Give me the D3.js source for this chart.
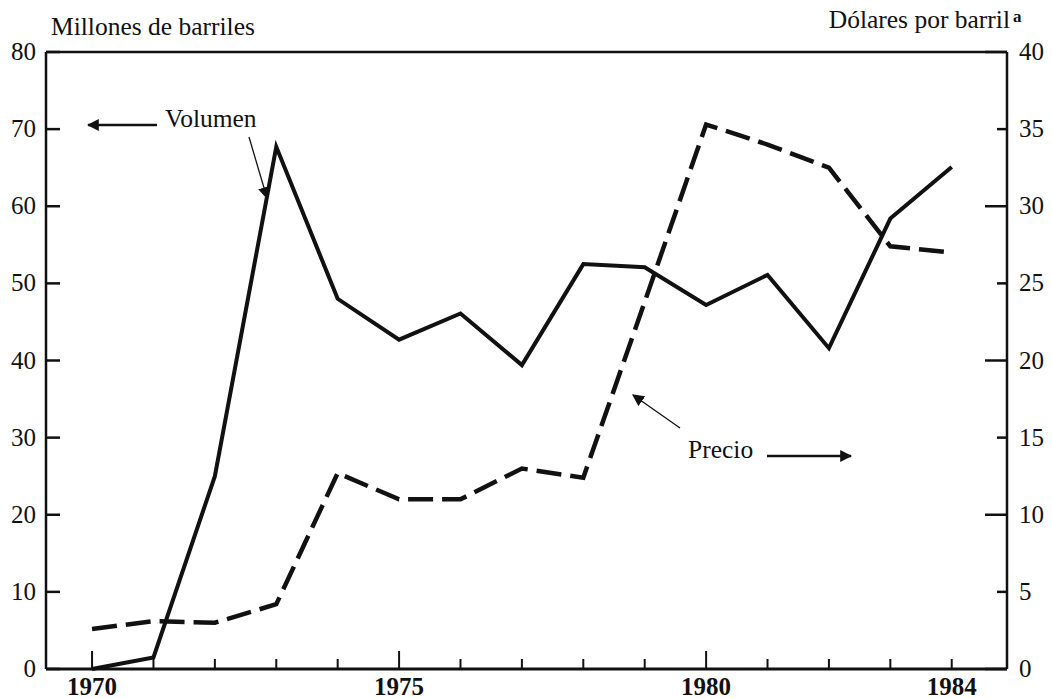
<!DOCTYPE html>
<html>
<head>
<meta charset="utf-8">
<script src="https://cdn.jsdelivr.net/npm/d3@7"></script>
<style>
    body { margin: 0; background: #fff; }
    text { font-family: "Liberation Serif", "DejaVu Serif", serif; fill: #111; }
</style>
</head>
<body>
<div id="container"></div>
<script>
// years on the x axis
const years = [1970, 1971, 1972, 1973, 1974, 1975, 1976, 1977, 1978, 1979, 1980, 1981, 1982, 1983, 1984];
// volume, millions of barrels (left axis)
const volumen = [0, 1.5, 25, 67.7, 48, 42.7, 46.1, 39.4, 52.5, 52.1, 47.2, 51.1, 41.6, 58.4, 65.1];
// price, dollars per barrel (right axis)
const precio = [2.6, 3.1, 3.0, 4.2, 12.7, 11.0, 11.0, 13.0, 12.4, 23.8, 35.3, 34.0, 32.5, 27.4, 27.0];

const yearLabels = [1970, 1975, 1980, 1984];
const leftTicks = [0, 10, 20, 30, 40, 50, 60, 70, 80];
const rightTicks = [0, 5, 10, 15, 20, 25, 30, 35, 40];

const chartW = 1052, chartH = 699;
const plotLeft = 46, plotRight = 1007, plotTop = 52, plotBottom = 669;

const svg = d3.select("#container").append("svg")
    .attr("width", chartW)
    .attr("height", chartH);

// scales
const x = d3.scaleLinear().domain([1969.25, 1984.9]).range([plotLeft, plotRight]);
const yL = d3.scaleLinear().domain([0, 80]).range([plotBottom, plotTop]);
const yR = d3.scaleLinear().domain([0, 40]).range([plotBottom, plotTop]);

// frame
function frameLine(x1, y1, x2, y2, w) {
    svg.append("line").attr("x1", x1).attr("x2", x2).attr("y1", y1).attr("y2", y2)
        .attr("stroke", "#111").attr("stroke-width", w);
}
frameLine(plotLeft, plotTop, plotRight, plotTop, 2.5);
frameLine(plotLeft, plotTop, plotLeft, plotBottom, 2.5);
frameLine(plotRight, plotTop, plotRight, plotBottom, 2.5);
frameLine(plotLeft, plotBottom, plotRight, plotBottom, 3);

// left ticks + labels
leftTicks.forEach(function(v) {
    frameLine(plotLeft, yL(v), plotLeft + 14, yL(v), 2.5);
    svg.append("text")
        .attr("x", 36).attr("y", yL(v) + 8)
        .attr("text-anchor", "end")
        .style("font-size", "25px")
        .text(v);
});

// right ticks + labels
rightTicks.forEach(function(v) {
    const len = v % 10 === 0 ? 22 : 10;
    frameLine(plotRight - len, yR(v), plotRight, yR(v), 2.5);
    svg.append("text")
        .attr("x", 1019).attr("y", yR(v) + 8)
        .style("font-size", "25px")
        .text(v);
});

// bottom ticks
years.forEach(function(yr) {
    const len = (yr === 1970 || yr === 1975 || yr === 1980) ? 18 : 10;
    frameLine(x(yr), plotBottom, x(yr), plotBottom - len, 2);
});
yearLabels.forEach(function(yr) {
    svg.append("text")
        .attr("x", x(yr)).attr("y", 695)
        .attr("text-anchor", "middle")
        .style("font-size", "25px")
        .style("font-weight", "bold")
        .text(yr);
});

// axis titles
svg.append("text").attr("x", 51).attr("y", 35)
    .style("font-size", "25.5px")
    .text("Millones de barriles");
svg.append("text").attr("x", 1010).attr("y", 28)
    .attr("text-anchor", "end")
    .style("font-size", "25.5px")
    .text("Dólares por barril");
svg.append("text").attr("x", 1013).attr("y", 22)
    .style("font-size", "17px")
    .style("font-weight", "bold")
    .text("a");

// series lines
const volLine = d3.line()
    .x(function(d, i) { return x(years[i]); })
    .y(function(d) { return yL(d); });
const priceLine = d3.line()
    .x(function(d, i) { return x(years[i]); })
    .y(function(d) { return yR(d); });

svg.append("path")
    .datum(volumen)
    .attr("d", volLine)
    .attr("fill", "none")
    .attr("stroke", "#111")
    .attr("stroke-width", 4)
    .attr("stroke-linejoin", "miter");

svg.append("path")
    .datum(precio)
    .attr("d", priceLine)
    .attr("fill", "none")
    .attr("stroke", "#111")
    .attr("stroke-width", 4.5)
    .attr("stroke-dasharray", "25,9");

// arrowheads
const defs = svg.append("defs");
defs.append("marker")
    .attr("id", "arrow")
    .attr("viewBox", "0 0 10 10")
    .attr("refX", 9).attr("refY", 5)
    .attr("markerWidth", 12).attr("markerHeight", 12)
    .attr("markerUnits", "userSpaceOnUse")
    .attr("orient", "auto")
    .append("path")
    .attr("d", "M0,0 L10,5 L0,10 Z")
    .attr("fill", "#111");

function arrow(x1, y1, x2, y2, w) {
    svg.append("line")
        .attr("x1", x1).attr("y1", y1).attr("x2", x2).attr("y2", y2)
        .attr("stroke", "#111").attr("stroke-width", w)
        .attr("marker-end", "url(#arrow)");
}

// annotations
svg.append("text").attr("x", 165).attr("y", 127)
    .style("font-size", "25.5px")
    .text("Volumen");
arrow(157, 125, 88, 125, 2.5);
arrow(249, 137, 267, 198, 1.3);

svg.append("text").attr("x", 688).attr("y", 458)
    .style("font-size", "25.5px")
    .text("Precio");
arrow(767, 456, 851, 456, 2.5);
arrow(680, 428, 633, 395, 1.3);
</script>
</body>
</html>
